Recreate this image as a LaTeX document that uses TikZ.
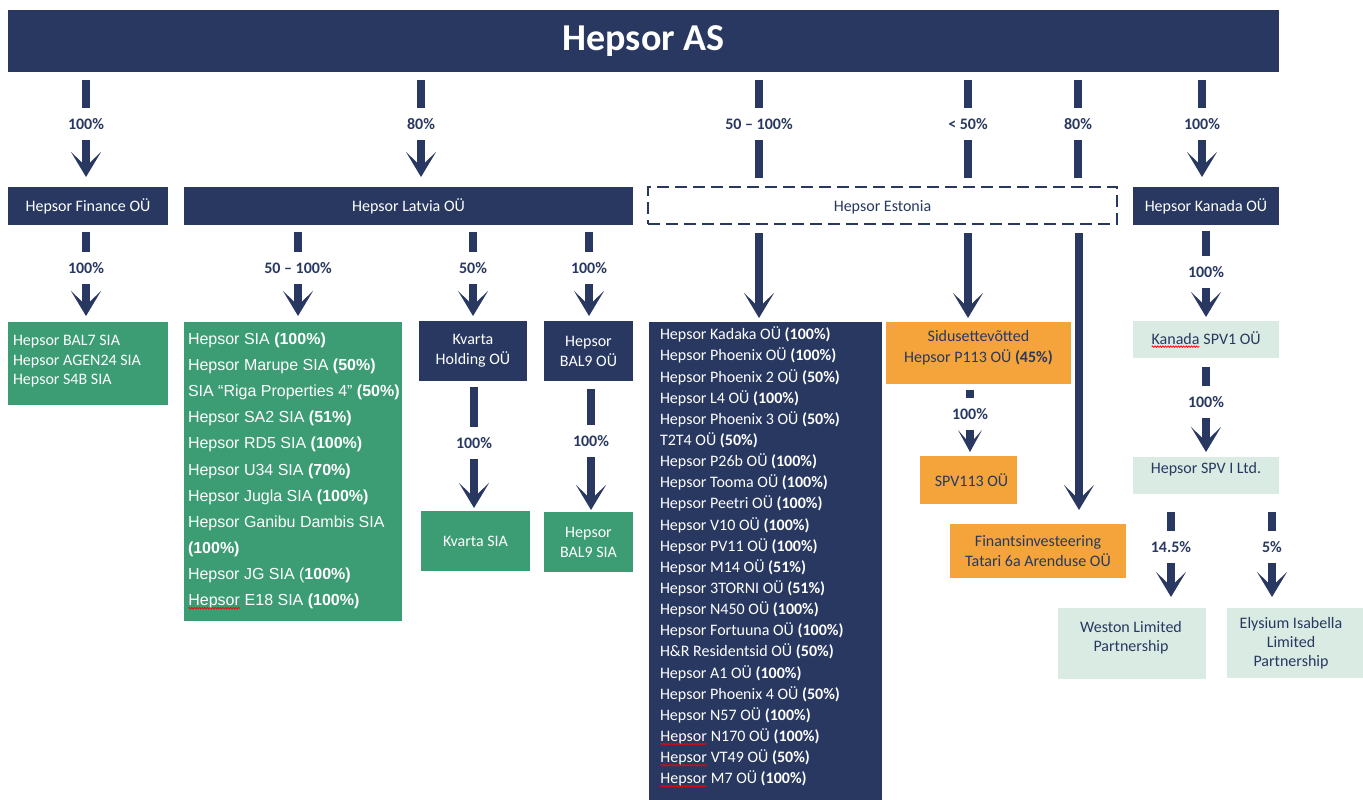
\documentclass[tikz,border=0pt]{standalone}
\usepackage{fontspec}
\setmainfont{Carlito}
\newfontfamily\arialf{Liberation Sans}
\usetikzlibrary{arrows.meta,decorations.pathmorphing}
\definecolor{navy}{RGB}{40,56,97}
\definecolor{hgreen}{RGB}{60,156,115}
\definecolor{horange}{RGB}{244,164,58}
\definecolor{hlight}{RGB}{218,235,227}
\pgfdeclarearrow{
  name = Chev,
  defaults = {length = 25pt, width = 30pt},
  parameters = {\the\pgfarrowlength,\the\pgfarrowwidth},
  setup code = {
    \pgfarrowssettipend{0pt}
    \pgfarrowssetlineend{-.45\pgfarrowlength}
    \pgfarrowssetbackend{-\pgfarrowlength}
    \pgfarrowssavethe\pgfarrowlength
    \pgfarrowssavethe\pgfarrowwidth
  },
  drawing code = {
    \pgfpathmoveto{\pgfqpoint{0pt}{0pt}}
    \pgfpathlineto{\pgfqpoint{-\pgfarrowlength}{.5\pgfarrowwidth}}
    \pgfpathlineto{\pgfqpoint{-.58\pgfarrowlength}{4pt}}
    \pgfpathlineto{\pgfqpoint{-.58\pgfarrowlength}{-4pt}}
    \pgfpathlineto{\pgfqpoint{-\pgfarrowlength}{-.5\pgfarrowwidth}}
    \pgfpathclose
    \pgfusepathqfill
  }
}
\newcommand\fsz{\fontsize{16}{20}\selectfont}
\newcommand\pb[1]{\textbf{(#1\%)}}
\newcommand\sq[1]{\tikz[baseline=(sqw.base)]{\node[inner sep=0pt,outer sep=0pt,minimum width=0pt,minimum height=0pt,fill=none,draw=none] (sqw) {#1};\draw[red,line width=0.7pt,solid,decorate,decoration={snake,amplitude=0.8pt,segment length=2.6pt}] ([yshift=-2.6pt]sqw.base west) -- ([yshift=-2.6pt]sqw.base east);}}
\tikzset{
  bx/.style={inner sep=0pt, outer sep=0pt, align=center, font=\fsz},
  nbox/.style={bx, fill=navy, text=white},
  gbox/.style={bx, fill=hgreen, text=white},
  obox/.style={bx, fill=horange, text=navy},
  lbox/.style={bx, fill=hlight, text=navy},
  txt/.style={inner sep=0pt, outer sep=0pt, align=center, font=\fsz},
  pct/.style={inner sep=0pt, outer sep=0pt, minimum height=32pt, text=navy, font=\fsz\bfseries},
  stem/.style={color=navy, line width=8pt},
  arr/.style={stem, -{Chev}},
  sarr/.style={stem, -{Chev[length=22pt,width=24pt]}},
}
\begin{document}
\begin{tikzpicture}[x=1pt,y=-1pt]
\useasboundingbox (0,0) rectangle (1363,800);
% top level
\node[nbox, minimum width=1271pt, minimum height=62pt, font=\fontsize{38}{40}\selectfont\bfseries] (title) at (643.5,41) {Hepsor AS};
\node[nbox, minimum width=160pt, minimum height=38pt] (fin) at (88,206) {Hepsor Finance OÜ};
\node[nbox, minimum width=449pt, minimum height=38pt] (lat) at (408.5,206) {Hepsor Latvia OÜ};
\node[bx, fill=white, draw=navy, line width=2.5pt, dash pattern=on 12pt off 6pt, text=navy, minimum width=469pt, minimum height=37pt, text height=12pt, text depth=0pt] (est) at (882.5,205.5) {Hepsor Estonia};
\node[nbox, minimum width=146pt, minimum height=38pt] (kan) at (1206,206) {Hepsor Kanada OÜ};
% connectors from title
\node[pct] (p1) at (86,124) {100\%};
\draw[stem, shorten <=8pt] (title.south -| p1) -- (p1.north);
\draw[arr, shorten >=10pt] (p1.south) -- (fin.north -| p1);
\node[pct] (p2) at (421,124) {80\%};
\draw[stem, shorten <=8pt] (title.south -| p2) -- (p2.north);
\draw[arr, shorten >=10pt] (p2.south) -- (lat.north -| p2);
\node[pct] (p3) at (759,124) {50 – 100\%};
\draw[stem, shorten <=8pt] (title.south -| p3) -- (p3.north);
\draw[stem, shorten >=9pt] (p3.south) -- (est.north -| p3);
\node[pct] (p4) at (968,124) {< 50\%};
\draw[stem, shorten <=8pt] (title.south -| p4) -- (p4.north);
\draw[stem, shorten >=9pt] (p4.south) -- (est.north -| p4);
\node[pct] (p5) at (1078,124) {80\%};
\draw[stem, shorten <=8pt] (title.south -| p5) -- (p5.north);
\draw[stem, shorten >=9pt] (p5.south) -- (est.north -| p5);
\node[pct] (p6) at (1202,124) {100\%};
\draw[stem, shorten <=8pt] (title.south -| p6) -- (p6.north);
\draw[arr, shorten >=10pt] (p6.south) -- (kan.north -| p6);
% Finance child
\node[gbox, minimum width=160pt, minimum height=83pt] (bal7) at (88,363.5) {};
\node[txt, anchor=north west, align=left, text=white, font=\fontsize{16}{19.5}\selectfont] (bal7t) at (13,335.5) {Hepsor BAL7 SIA\\Hepsor AGEN24 SIA\\Hepsor S4B SIA};
\node[pct] (q1) at (86,268) {100\%};
\draw[stem, shorten <=7pt] (fin.south -| q1) -- (q1.north);
\draw[arr, shorten >=6pt] (q1.south) -- (bal7.north -| q1);
% Latvia children
\node[gbox, minimum width=218pt, minimum height=299pt] (latl) at (293,471.5) {};
\node[txt, anchor=north west, align=left, text=white, font=\arialf\fontsize{16}{26.1}\selectfont] (latlt) at (188,333) {Hepsor SIA \pb{100}\\Hepsor Marupe SIA \pb{50}\\SIA “Riga Properties 4” \pb{50}\\Hepsor SA2 SIA \pb{51}\\Hepsor RD5 SIA \pb{100}\\Hepsor U34 SIA \pb{70}\\Hepsor Jugla SIA \pb{100}\\Hepsor Ganibu Dambis SIA\\\pb{100}\\Hepsor JG SIA (\textbf{100\%)}\\\sq{Hepsor} E18 SIA \pb{100}};
\node[nbox, minimum width=108pt, minimum height=60pt] (kvh) at (473,351) {Kvarta\\Holding OÜ};
\node[nbox, minimum width=89pt, minimum height=60pt] (bal9) at (588.5,351) {Hepsor\\BAL9 OÜ};
\node[gbox, minimum width=109pt, minimum height=60pt] (kvs) at (475.5,541) {Kvarta SIA};
\node[gbox, minimum width=89pt, minimum height=60pt] (bal9s) at (588.5,542) {Hepsor\\BAL9 SIA};
\node[pct] (q2) at (298,268) {50 – 100\%};
\draw[stem, shorten <=7pt] (lat.south -| q2) -- (q2.north);
\draw[arr, shorten >=6pt] (q2.south) -- (latl.north -| q2);
\node[pct] (q3) at (473,268) {50\%};
\draw[stem, shorten <=7pt] (lat.south -| q3) -- (q3.north);
\draw[arr, shorten >=5pt] (q3.south) -- (kvh.north -| q3);
\node[pct] (q4) at (589,268) {100\%};
\draw[stem, shorten <=7pt] (lat.south -| q4) -- (q4.north);
\draw[arr, shorten >=5pt] (q4.south) -- (bal9.north -| q4);
\node[pct] (q5) at (474,443) {100\%};
\draw[stem, shorten <=6pt] (kvh.south -| q5) -- (q5.north);
\draw[arr, shorten >=3pt] (q5.south) -- (kvs.north -| q5);
\node[pct] (q6) at (591,441) {100\%};
\draw[stem, shorten <=8pt] (bal9.south -| q6) -- (q6.north);
\draw[arr, shorten >=2pt] (q6.south) -- (bal9s.north -| q6);
% Estonia children
\node[nbox, minimum width=233pt, minimum height=478pt] (estl) at (765.5,561) {};
\node[txt, anchor=north west, align=left, text=white, font=\fontsize{16}{21.14}\selectfont] (estlt) at (660,327) {Hepsor Kadaka OÜ \pb{100}\\Hepsor Phoenix OÜ \pb{100}\\Hepsor Phoenix 2 OÜ \pb{50}\\Hepsor L4 OÜ \pb{100}\\Hepsor Phoenix 3 OÜ \pb{50}\\T2T4 OÜ \pb{50}\\Hepsor P26b OÜ \pb{100}\\Hepsor Tooma OÜ \pb{100}\\Hepsor Peetri OÜ \pb{100}\\Hepsor V10 OÜ \pb{100}\\Hepsor PV11 OÜ \pb{100}\\Hepsor M14 OÜ \pb{51}\\Hepsor 3TORNI OÜ \pb{51}\\Hepsor N450 OÜ \pb{100}\\Hepsor Fortuuna OÜ \pb{100}\\H\&R Residentsid OÜ \pb{50}\\Hepsor A1 OÜ \pb{100}\\Hepsor Phoenix 4 OÜ \pb{50}\\Hepsor N57 OÜ \pb{100}\\\sq{Hepsor} N170 OÜ \pb{100}\\\sq{Hepsor} VT49 OÜ \pb{50}\\\sq{Hepsor} M7 OÜ \pb{100}};
\node[obox, minimum width=185pt, minimum height=62pt] (sid) at (978.5,353) {};
\node[txt, text=navy, font=\fontsize{16}{21}\selectfont] (sidt) at (978.5,348) {Sidusettevõtted\\Hepsor P113 OÜ \pb{45}};
\node[obox, minimum width=97pt, minimum height=48pt] (spv113) at (968.5,480) {\hspace*{6pt}SPV113 OÜ};
\node[obox, minimum width=176pt, minimum height=54pt] (tat) at (1038,551) {Finantsinvesteering\\Tatari 6a Arenduse OÜ};
\coordinate (e1) at (759,0);
\coordinate (e2) at (968,0);
\coordinate (e3) at (1079,0);
\draw[arr, shorten <=9pt, shorten >=4pt] (est.south -| e1) -- (estl.north -| e1);
\draw[arr, shorten <=9pt, shorten >=4pt] (est.south -| e2) -- (sid.north -| e2);
\draw[arr, shorten <=9pt, shorten >=14pt] (est.south -| e3) -- (tat.north -| e3);
\node[pct] (r1) at (970,414) {100\%};
\draw[stem, shorten <=6pt] (sid.south -| r1) -- (r1.north);
\draw[sarr, shorten >=4pt] (r1.south) -- (spv113.north -| r1);
% Kanada children
\node[lbox, minimum width=146pt, minimum height=37pt] (spv1) at (1206,339.5) {\sq{Kanada} SPV1 OÜ};
\node[lbox, minimum width=146pt, minimum height=37pt] (spvi) at (1206,475.5) {};
\node[txt, text=navy] (spvit) at (1206,469) {Hepsor SPV I Ltd.};
\node[lbox, minimum width=148pt, minimum height=71pt] (wes) at (1132,643.5) {};
\node[txt, text=navy, font=\fontsize{16}{19.5}\selectfont] (west) at (1131,637.5) {Weston Limited\\Partnership};
\node[lbox, minimum width=136pt, minimum height=70pt] (ely) at (1295,643) {};
\node[txt, text=navy, font=\fontsize{16}{19}\selectfont] (elyt) at (1291,643) {Elysium Isabella\\Limited\\Partnership};
\node[pct] (k1) at (1206,272) {100\%};
\draw[stem, shorten <=6pt] (kan.south -| k1) -- (k1.north);
\draw[arr, shorten >=4pt] (k1.south) -- (spv1.north -| k1);
\node[pct] (k2) at (1206,402) {100\%};
\draw[stem, shorten <=9pt] (spv1.south -| k2) -- (k2.north);
\draw[arr, shorten >=5pt] (k2.south) -- (spvi.north -| k2);
\node[pct] (k3) at (1171,547) {14.5\%};
\draw[stem, shorten <=18pt] (spvi.south -| k3) -- (k3.north);
\draw[arr, shorten >=11pt] (k3.south) -- (wes.north -| k3);
\node[pct] (k4) at (1272,547) {5\%};
\draw[stem, shorten <=18pt] (spvi.south -| k4) -- (k4.north);
\draw[arr, shorten >=11pt] (k4.south) -- (ely.north -| k4);
\end{tikzpicture}
\end{document}
